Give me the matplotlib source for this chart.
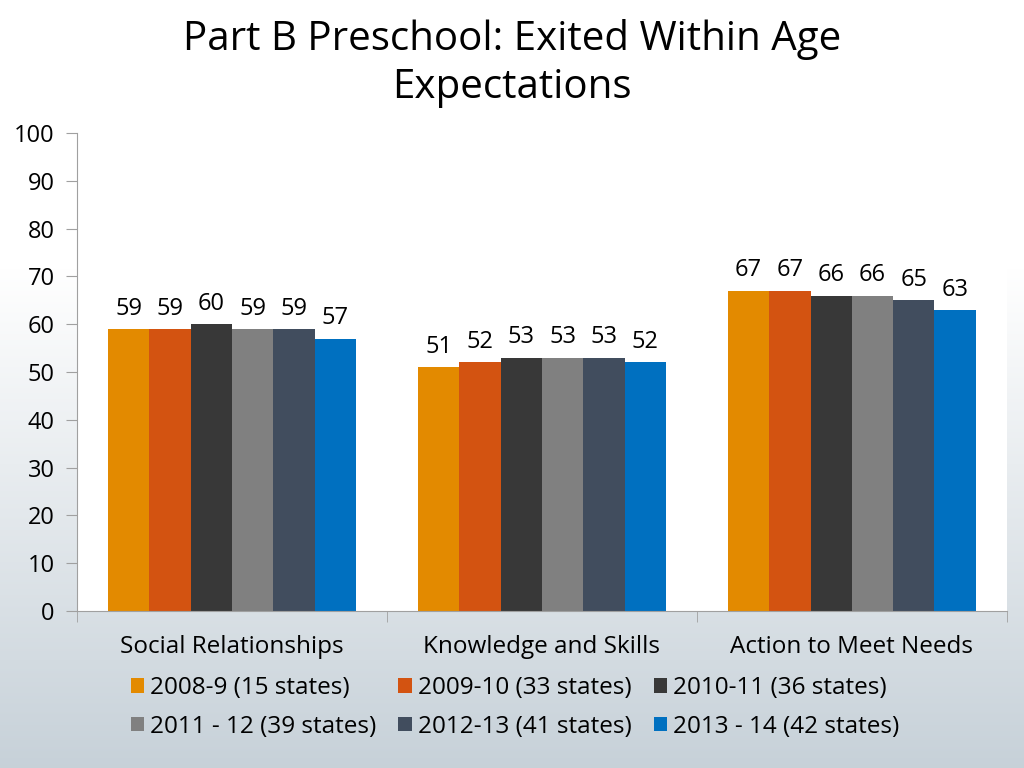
import matplotlib.pyplot as plt
import numpy as np

categories = ['Social Relationships', 'Knowledge and Skills', 'Action to Meet Needs']
series = ['2008-9 (15 states)', '2009-10 (33 states)', '2010-11 (36 states)',
          '2011 - 12 (39 states)', '2012-13 (41 states)', '2013 - 14 (42 states)']
values = [
    [59, 51, 67],
    [59, 52, 67],
    [60, 53, 66],
    [59, 53, 66],
    [59, 53, 65],
    [57, 52, 63],
]
colors = ['#E38A00', '#D35311', '#383838', '#808080', '#414D5E', '#0070C0']

plt.rcParams['font.family'] = ['Open Sans', 'DejaVu Sans']

fig = plt.figure(figsize=(10.24, 7.68), dpi=100)

# background gradient: white at top, light blue-grey at bottom
bg = fig.add_axes([0, 0, 1, 1], zorder=-10)
t = np.clip((np.linspace(0, 1, 768) - 0.35) / 0.65, 0, 1)[:, None]
top = np.array([1.0, 1.0, 1.0])
bot = np.array([0.78, 0.82, 0.85])
grad = top + (bot - top) * t[..., None]
grad = np.repeat(grad, 2, axis=1)
bg.imshow(grad, aspect='auto', extent=[0, 1, 0, 1])
bg.axis('off')

ax = fig.add_axes([0.0752, 0.2044, 0.908, 0.6224])
ax.set_facecolor('white')

x = np.arange(len(categories))
w = 0.8 / len(series)
for i, (name, vals) in enumerate(zip(series, values)):
    pos = x - 0.4 + w * (i + 0.5)
    bars = ax.bar(pos, vals, w, color=colors[i], label=name, zorder=2)
    ax.bar_label(bars, padding=6, fontsize=17, color='black')

ax.set_xlim(-0.5, len(categories) - 0.5)
ax.set_ylim(0, 100)
ax.set_yticks(range(0, 101, 10))
ax.tick_params(axis='y', labelsize=17, length=8, color='#A0A0A0', pad=8)
ax.set_xticks(x)
ax.set_xticklabels(categories, fontsize=17.5)
ax.set_xticks(np.arange(-0.5, len(categories)), minor=True)
ax.tick_params(axis='x', which='major', length=0, pad=17)
ax.tick_params(axis='x', which='minor', length=8, color='#A0A0A0')
for s in ['top', 'right']:
    ax.spines[s].set_visible(False)
for s in ['left', 'bottom']:
    ax.spines[s].set_color('#A0A0A0')

fig.suptitle('Part B Preschool: Exited Within Age\nExpectations', fontsize=29,
             y=0.975, x=0.5, linespacing=1.25)

h, l = ax.get_legend_handles_labels()
order = [0, 3, 1, 4, 2, 5]
fig.legend([h[k] for k in order], [l[k] for k in order], ncol=3,
           loc='center', bbox_to_anchor=(0.503, 0.079), frameon=False,
           fontsize=17.5, handlelength=0.55, handleheight=0.55, handletextpad=0.25,
           columnspacing=0.9, labelspacing=0.6)

fig.savefig('out.png', dpi=100)
